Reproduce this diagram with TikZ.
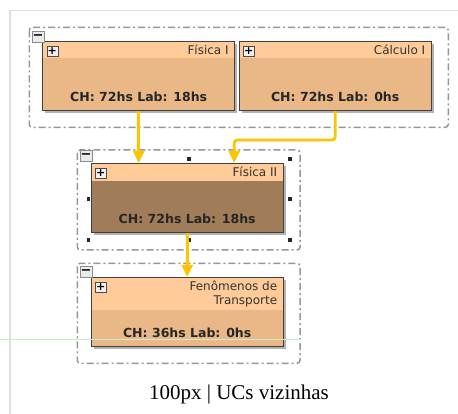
\documentclass[tikz,border=0pt]{standalone}
\usepackage{fontspec}
\setmainfont{DejaVu Sans}
\newfontfamily\capfont{Liberation Serif}
\usetikzlibrary{calc, shadows, arrows.meta}

\definecolor{ucHead}{RGB}{255,204,153}
\definecolor{ucBody}{RGB}{234,184,135}
\definecolor{ucSel}{RGB}{160,124,88}
\definecolor{ucEdge}{RGB}{255,196,0}
\definecolor{grpLine}{RGB}{150,150,150}
\definecolor{pageLine}{RGB}{222,222,222}
\definecolor{guideLine}{RGB}{200,235,200}

\tikzset{
  ucnode/.style={anchor=north west, minimum width=192pt, minimum height=69.5pt, inner sep=0pt,
    drop shadow={shadow xshift=2.5pt, shadow yshift=-2.5pt, fill=black!30, opacity=1}},
  ucframe/.style={draw=black!75, line width=0.9pt},
  uctitle/.style={anchor=base east, inner sep=0pt, text=black!80, font=\fontsize{12}{14.3}\selectfont},
  uchours/.style={anchor=base, inner sep=0pt, text=black!85, font=\bfseries\fontsize{12.5}{14}\selectfont},
  plusbox/.style={draw=black!70, fill=white!94!black, minimum width=11pt, minimum height=10pt,
    inner sep=0pt, font=\bfseries\fontsize{11}{11}\selectfont},
  minusbox/.style={draw=black!45, fill=black!8, minimum width=12pt, minimum height=11pt,
    inner sep=0pt, font=\bfseries\fontsize{13}{13}\selectfont},
  grp/.style={draw=grpLine, line width=1.5pt, rounded corners=3pt, dash pattern=on 7pt off 3pt on 2pt off 3pt},
  flow/.style={draw=ucEdge, line width=2.8pt, -{Triangle[width=11pt,length=12pt]}, rounded corners=3pt},
}

% name, position, header height, body colour, title, hours
\newcommand{\ucbox}[6]{%
  \node[ucnode, fill=#4] (#1) at (#2) {};
  \fill[ucHead] (#1.north west) rectangle ($(#1.north east)+(0,#3)$);
  \draw[ucframe] (#1.north west) rectangle (#1.south east);
  \node[uctitle] (#1t) at ($(#1.north east)+(-6,13.4)$) {\begin{tabular}[t]{@{}r@{}}#5\end{tabular}};
  \node[uchours] (#1h) at ($(#1.south)+(0,-9)$) {#6};
  \node[plusbox] (#1p) at ($(#1.north west)+(9.8,9.8)$) {+};
}

\begin{document}
\begin{tikzpicture}[x=1pt, y=-1pt]
  \useasboundingbox (0,0) rectangle (458,414);
  \draw[pageLine, line width=0.8pt] (10,10) -- (458,10);
  \draw[pageLine, line width=1.8pt] (10,10) -- (10,414);

  % groups
  \draw[grp] (29.3,27.3) rectangle (448.3,127.3);
  \draw[grp] (77.3,150) rectangle (300,250);
  \draw[grp] (77.3,263.3) rectangle (300,363.3);
  \foreach \p in {(88.3,159.3),(189,159.3),(290,159.3),(88.3,199.3),(290,199.3),(88.3,240),(189,240),(290,240)}
    \fill[black!85] \p +(-1.8,-1.8) rectangle +(1.8,1.8);

  % UCs
  \ucbox{fis1}{42.5,41}{17}{ucBody}{Física I}{CH: 72hs Lab: 18hs}
  \ucbox{calc1}{239,41}{17}{ucBody}{Cálculo I}{CH: 72hs Lab: 0hs}
  \ucbox{fis2}{91,163}{18}{ucSel}{Física II}{CH: 72hs Lab: 18hs}
  \ucbox{fentr}{91,277}{33}{ucBody}{Fenômenos de\\Transporte}{CH: 36hs Lab: 0hs}

  \node[minusbox] (g1m) at (38,37) {−};
  \node[minusbox] (g2m) at (86,156) {−};
  \node[minusbox] (g3m) at (86,272) {−};

  % prerequisites
  \coordinate (in2) at ($(fis2.north)+(47,0)$);
  \draw[flow] (fis1.south) -- (fis1.south |- fis2.north);
  \draw[flow] (calc1.south) |- ($(in2)+(0,-23)$) -- (in2);
  \draw[flow] (fis2.south) -- (fentr.north);

  \draw[guideLine, line width=0.6pt] (0,339.5) -- (301,339.5);
  \node[font=\capfont\fontsize{21}{24}\selectfont, anchor=base, inner sep=0pt] (cap) at (239,399) {100px | UCs vizinhas};
\end{tikzpicture}
\end{document}
